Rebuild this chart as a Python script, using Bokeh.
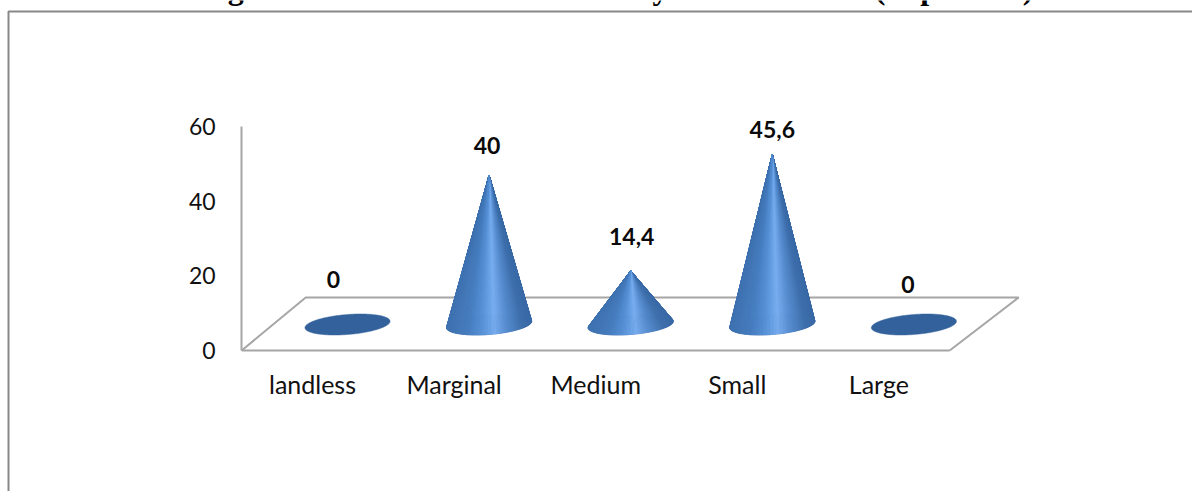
import math
from bokeh.plotting import figure
from bokeh.models import Label, FixedTicker, ColumnDataSource, Range1d
from bokeh.core.properties import value as fval
from bokeh.embed import file_html
from bokeh.resources import INLINE

# ---- data
title_text = "Diagram 4: Land Size of the Surveyed Households (in percent)"
categories = ["landless", "Marginal", "Medium", "Small", "Large"]
values = [0, 40, 14.4, 45.6, 0]
y_ticks = [0, 20, 40, 60]
label_offsets = [(-14, -45), (-2, -30), (1, -34), (0, -25), (-6, -40)]

W, H = 1192, 491
X0, PX_PER_CAT = 312.0, 141.6     # pixel of category 0, pixels per category
Y0, PX_PER_VAL = 350.0, 224 / 60  # pixel of value 0, pixels per unit
GRAY = "#a6a6a6"


def dx(px):
    return (px - X0) / PX_PER_CAT


def dy(py):
    return (Y0 - py) / PX_PER_VAL


p = figure(width=W, height=H, x_range=Range1d(dx(0), dx(W)), y_range=Range1d(dy(H), dy(0)),
           output_backend="svg", toolbar_location=None, min_border=0,
           margin=0, outline_line_color=None,
           background_fill_color="white", border_fill_color="white")
p.grid.visible = False

# axes
font = "Lato"
ax = p.yaxis[0]
ax.fixed_location = -0.5
ax.bounds = (0, 60)
ax.ticker = FixedTicker(ticks=y_ticks)
ax.axis_line_color = GRAY
ax.axis_line_width = 2
ax.major_tick_line_color = None
ax.minor_tick_line_color = None
ax.major_label_standoff = 20
ax.major_label_text_font = font
ax.major_label_text_font_size = "23px"
ax.major_label_text_color = "#111111"

xa = p.xaxis[0]
xa.fixed_location = 0
xa.ticker = FixedTicker(ticks=list(range(len(categories))))
xa.major_label_overrides = {i: c for i, c in enumerate(categories)}
xa.axis_line_color = None
xa.major_tick_line_color = None
xa.minor_tick_line_color = None
xa.major_label_standoff = 12
xa.major_label_text_font = font
xa.major_label_text_font_size = "25px"
xa.major_label_text_color = "#111111"

# floor
DEPTH_V = 53 / PX_PER_VAL
DEPTH_L = 64 / PX_PER_CAT
DEPTH_R = 69 / PX_PER_CAT
lo, hi = -0.5, len(categories) - 0.5
p.line([lo, lo + DEPTH_L, hi + DEPTH_R, hi], [0, DEPTH_V, DEPTH_V, 0],
       line_color=GRAY, line_width=2)
p.line([lo, hi], [0, 0], line_color=GRAY, line_width=2)

# outer frame of the pasted chart
p.line([dx(W), dx(8), dx(8)], [dy(11), dy(11), dy(H)], line_color="#888888", line_width=2)


def lerp(a, b, t):
    return a + (b - a) * t


STOPS = [(-1.0, (0x3f, 0x72, 0xb0)), (-0.5, (0x47, 0x7e, 0xc0)), (-0.2, (0x58, 0x91, 0xd6)),
         (0.12, (0x78, 0xae, 0xf0)), (0.42, (0x58, 0x8e, 0xd0)), (0.78, (0x3f, 0x70, 0xad)),
         (1.0, (0x3a, 0x6a, 0xa6))]


def shade(u):
    u = max(-1, min(1, u))
    for (a, ca), (b, cb) in zip(STOPS, STOPS[1:]):
        if u <= b:
            t = (u - a) / (b - a)
            return "#%02x%02x%02x" % tuple(round(lerp(x, y, t)) for x, y in zip(ca, cb))
    return "#3a6aa6"


A = 40.5 / PX_PER_CAT      # disc half-width
B = 10.5 / PX_PER_VAL      # disc half-depth on screen
SHEAR = (66 / PX_PER_CAT) / (53 / PX_PER_VAL)
CY = 26 / PX_PER_VAL       # disc centre height
CX = 35 / PX_PER_CAT       # disc centre shift


def disc_point(cx, t):
    u, v = math.cos(t), math.sin(t)
    return cx + A * u + SHEAR * B * v, CY + B * v


N = 180
for i, v in enumerate(values):
    cx = i + CX
    pts = [disc_point(cx, 2 * math.pi * k / N) for k in range(N)]
    p.patch([q[0] for q in pts], [q[1] for q in pts], fill_color="#33619b", line_color="#33619b", line_width=0.5)
    if v <= 0:
        continue
    ext = max(q[0] - cx for q in pts)
    tris = []
    for k in range(N):
        a, b = pts[k], pts[(k + 1) % N]
        mx, my = (a[0] + b[0]) / 2, (a[1] + b[1]) / 2
        tris.append((-my, [cx, a[0], b[0]], [CY + v, a[1], b[1]], shade((mx - cx) / ext)))
    tris.sort(key=lambda r: r[0])
    src = ColumnDataSource(dict(xs=[r[1] for r in tris], ys=[r[2] for r in tris], c=[r[3] for r in tris]))
    p.patches("xs", "ys", source=src, fill_color="c", line_color="c", line_width=0.6)

# data labels
lab = ColumnDataSource(dict(
    x=[i + CX for i in range(len(values))],
    y=[CY + v for v in values],
    t=[str(v).replace(".", ",") for v in values],
    dx=[o[0] for o in label_offsets],
    dy=[o[1] for o in label_offsets],
))
p.text("x", "y", text="t", source=lab, x_offset="dx", y_offset="dy",
       text_align="center", text_baseline="middle", text_font=fval(font),
       text_font_style="bold", text_font_size="23px", text_color="#0a0a0a")

# title, cut by the top of the picture
p.add_layout(Label(x=dx(606), y=dy(-13), text=title_text,
                   text_font="Liberation Serif", text_font_style="bold", text_font_size="32px",
                   text_align="center", text_baseline="alphabetic", text_color="black"))

open("out.html", "w").write(file_html(p, INLINE))
